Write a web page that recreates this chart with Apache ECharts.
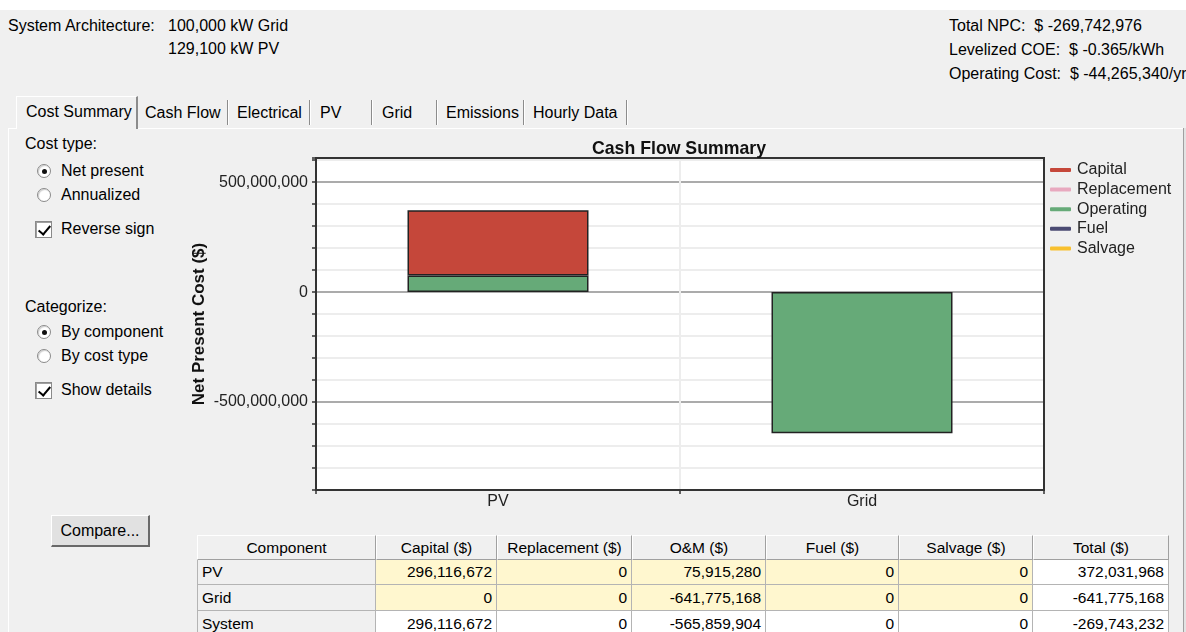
<!DOCTYPE html>
<html><head><meta charset="utf-8">
<script src="https://cdn.jsdelivr.net/npm/echarts@6/dist/echarts.min.js"></script>
<style>
*{box-sizing:border-box}
body{margin:0;width:1186px;height:632px;overflow:hidden;background:#f0f0f0;font-family:"Liberation Sans",Arial,sans-serif;font-size:16px;color:#000;position:relative}
.a{position:absolute;white-space:pre;line-height:18px}
.radio{position:absolute;width:14px;height:14px;border-radius:50%;border:1px solid #8a8a8a;background:#fff;box-shadow:inset 1px 1px 1px #cfcfcf}
.radio.on::after{content:"";position:absolute;left:3.5px;top:3.5px;width:5px;height:5px;border-radius:50%;background:#111}
.chk{position:absolute;width:17px;height:17px;border:1px solid #8a8a8a;background:#fff;box-shadow:inset 1px 1px 0 #a0a0a0}
.chk::after{content:"";position:absolute;left:4.5px;top:1px;width:5px;height:10px;border-right:2.5px solid #000;border-bottom:2.5px solid #000;transform:rotate(40deg)}
.sep{position:absolute;top:100px;height:25px;width:2px;border-left:1px solid #8c8c8c;border-right:1px solid #fff}
.cell{position:absolute;line-height:16px;white-space:pre;font-size:15.5px;padding:0 4px;display:flex;align-items:center;overflow:hidden}
#chart{position:absolute;left:172px;top:130px;width:1014px;height:390px}
</style></head><body>
<div style="position:absolute;left:0;top:0;width:1186px;height:10px;background:#fff"></div>
<div class="a" style="left:8px;top:17px">System Architecture:</div>
<div class="a" style="left:168px;top:17px">100,000 kW Grid</div>
<div class="a" style="left:168px;top:40px">129,100 kW PV</div>
<div class="a" style="left:949px;top:17px">Total NPC:  $ -269,742,976</div>
<div class="a" style="left:949px;top:41px">Levelized COE:  $ -0.365/kWh</div>
<div class="a" style="left:949px;top:65px">Operating Cost:  $ -44,265,340/yr</div>

<!-- tab panel frame -->
<div style="position:absolute;left:8px;top:128px;width:1176px;height:1px;background:#fff"></div>
<div style="position:absolute;left:8px;top:128px;width:1px;height:504px;background:#fff"></div>
<div style="position:absolute;left:1183px;top:128px;width:1px;height:504px;background:#a0a0a0"></div>
<div style="position:absolute;left:1184px;top:128px;width:2px;height:504px;background:#e3e3e3"></div>
<!-- tabs -->
<div style="position:absolute;left:16px;top:96px;width:122px;height:33px;background:#f0f0f0;border-left:1px solid #fff;border-top:1px solid #fff;border-right:2px solid #8c8c8c"></div>
<div class="a" style="left:26px;top:103px">Cost Summary</div>
<div class="a" style="left:145px;top:104px">Cash Flow</div>
<div class="sep" style="left:227px"></div>
<div class="a" style="left:237px;top:104px">Electrical</div>
<div class="sep" style="left:309px"></div>
<div class="a" style="left:320px;top:104px">PV</div>
<div class="sep" style="left:371px"></div>
<div class="a" style="left:382px;top:104px">Grid</div>
<div class="sep" style="left:436px"></div>
<div class="a" style="left:446px;top:104px">Emissions</div>
<div class="sep" style="left:523px"></div>
<div class="a" style="left:533px;top:104px">Hourly Data</div>
<div class="sep" style="left:626px"></div>

<!-- left controls -->
<div class="a" style="left:25px;top:135px">Cost type:</div>
<div class="radio on" style="left:37px;top:164px"></div>
<div class="a" style="left:61px;top:162px">Net present</div>
<div class="radio" style="left:37px;top:188px"></div>
<div class="a" style="left:61px;top:186px">Annualized</div>
<div class="chk" style="left:35px;top:221px"></div>
<div class="a" style="left:61px;top:220px">Reverse sign</div>
<div class="a" style="left:25px;top:298px">Categorize:</div>
<div class="radio on" style="left:37px;top:325px"></div>
<div class="a" style="left:61px;top:323px">By component</div>
<div class="radio" style="left:37px;top:349px"></div>
<div class="a" style="left:61px;top:347px">By cost type</div>
<div class="chk" style="left:35px;top:382px"></div>
<div class="a" style="left:61px;top:381px">Show details</div>
<div style="position:absolute;left:51px;top:515px;width:99px;height:32px;background:#e1e1e1;border:1px solid #fff;border-right:2px solid #696969;border-bottom:2px solid #696969;display:flex;align-items:center;justify-content:center">Compare...</div>

<div id="chart"></div>
<div id="table"></div>

<script>
// ---- chart data ----
const categories = ['PV', 'Grid'];
const legendOrder = ['Capital', 'Replacement', 'Operating', 'Fuel', 'Salvage'];
const capital = [296116672, 0];
const replacement = [0, 0];
const operating = [75915280, -641775168];
const fuel = [0, 0];
const salvage = [0, 0];
const labeledTicks = [-500000000, 0, 500000000];

// ---- table data ----
const tableHeader = ['Component', 'Capital ($)', 'Replacement ($)', 'O&M ($)', 'Fuel ($)', 'Salvage ($)', 'Total ($)'];
const tableRows = ['PV', 'Grid', 'System'];
const tableCapital = [296116672, 0, 296116672];
const tableReplacement = [0, 0, 0];
const tableOM = [75915280, -641775168, -565859904];
const tableFuel = [0, 0, 0];
const tableSalvage = [0, 0, 0];
const tableTotal = [372031968, -641775168, -269743232];

const fmt = v => v.toLocaleString('en-US');
const FONT = '"Liberation Sans", Arial, sans-serif';

// ---- build table ----
(function () {
  const colX = [197, 376, 497, 632, 766, 899, 1033, 1169];
  const rowY = [535, 560, 585, 611, 637];
  const cols = [tableRows, tableCapital, tableReplacement, tableOM, tableFuel, tableSalvage, tableTotal];
  const host = document.getElementById('table');
  function cell(c, r, text, style) {
    const d = document.createElement('div');
    d.className = 'cell';
    d.textContent = text;
    d.style.left = colX[c] + 'px';
    d.style.top = rowY[r] + 'px';
    d.style.width = (colX[c + 1] - colX[c]) + 'px';
    d.style.height = (rowY[r + 1] - rowY[r]) + 'px';
    Object.assign(d.style, style);
    host.appendChild(d);
  }
  tableHeader.forEach((h, c) => cell(c, 0, h, {
    justifyContent: 'center', background: '#f0f0f0',
    borderLeft: '1px solid #fff', borderTop: '1px solid #fff',
    borderRight: '1px solid #a0a0a0', borderBottom: '1px solid #a0a0a0'
  }));
  tableRows.forEach((name, r) => {
    cols.forEach((col, c) => {
      const isName = c === 0;
      let bg = '#ffffff';
      if (isName) bg = '#f0f0f0';
      else if (r < 2 && c < 6) bg = '#fff7cf';
      cell(c, r + 1, isName ? name : fmt(col[r]), {
        justifyContent: isName ? 'flex-start' : 'flex-end',
        background: bg,
        borderRight: '1px solid #b4b4b4', borderBottom: '1px solid #b4b4b4',
        borderLeft: c === 0 ? '1px solid #b4b4b4' : 'none'
      });
    });
  });
})();

// ---- chart ----
const colors = {
  Capital: '#c5473a', Replacement: '#e8a9bf', Operating: '#66aa78', Fuel: '#4a4a72', Salvage: '#f8c02e'
};
const seriesData = { Operating: operating, Capital: capital, Replacement: replacement, Fuel: fuel, Salvage: salvage };
const stackOrder = ['Operating', 'Capital', 'Replacement', 'Fuel', 'Salvage'];
const Y_MIN = -900000000, Y_MAX = 610000000, Y_STEP = 100000000;

const chart = echarts.init(document.getElementById('chart'), null, { renderer: 'canvas' });
chart.setOption({
  animation: false,
  backgroundColor: 'transparent',
  title: {
    text: 'Cash Flow Summary', left: 'center', top: 10, padding: 0,
    textStyle: { fontFamily: FONT, fontWeight: 'bold', fontSize: 17.7, color: '#111' }
  },
  legend: {
    data: legendOrder, orient: 'vertical', left: 878, top: 32, padding: 0,
    icon: 'roundRect', itemWidth: 21, itemHeight: 4, itemGap: 3.6,
    selectedMode: false,
    itemStyle: { borderWidth: 0 },
    textStyle: { fontFamily: FONT, fontSize: 16, color: '#222', lineHeight: 16, padding: [0, 0, 0, 1] }
  },
  grid: {
    left: 144, right: 142, top: 28, bottom: 30,
    show: true, borderColor: '#333', borderWidth: 2, backgroundColor: '#fff', containLabel: false
  },
  xAxis: [{
    type: 'category', data: categories,
    axisLine: { onZero: false, lineStyle: { color: '#333', width: 2 } },
    axisTick: { show: true, alignWithLabel: false, length: 4, lineStyle: { color: '#333', width: 1.5 } },
    splitLine: { show: true, lineStyle: { color: '#ededed', width: 2 } },
    axisLabel: { fontFamily: FONT, fontSize: 16, color: '#222', margin: 4 }
  }, {
    type: 'category', data: categories, position: 'top',
    axisLine: { show: true, onZero: false, lineStyle: { color: '#333', width: 2 } },
    axisTick: { show: false }, axisLabel: { show: false }, splitLine: { show: false }
  }],
  yAxis: [{
    type: 'value', min: Y_MIN, max: Y_MAX, interval: Y_STEP,
    name: 'Net Present Cost ($)', nameLocation: 'middle', nameGap: 108, nameMoveOverlap: false,
    nameTextStyle: { fontFamily: FONT, fontWeight: 'bold', fontSize: 17, color: '#111' },
    axisLine: { show: true, onZero: false, lineStyle: { color: '#333', width: 2 } },
    axisTick: { show: true, length: 4, lineStyle: { color: '#333', width: 1.5 } },
    splitLine: { show: true, lineStyle: { color: ['#ededed', '#ededed', '#ededed', '#ededed', '#ababab'], width: 2 } },
    axisLabel: {
      fontFamily: FONT, fontSize: 16, color: '#222', margin: 8,
      formatter: v => labeledTicks.includes(v) ? fmt(v) : ''
    }
  }, {
    type: 'value', min: Y_MIN, max: Y_MAX, interval: Y_STEP, position: 'right',
    axisLine: { show: true, onZero: false, lineStyle: { color: '#333', width: 2 } },
    axisTick: { show: false }, axisLabel: { show: false }, splitLine: { show: false }
  }],
  series: stackOrder.map(name => ({
    name, type: 'bar', stack: 'total',
    // zero-cost components have no visible bar
    data: seriesData[name].map(v => (v === 0 ? null : v)),
    xAxisIndex: 0, yAxisIndex: 0,
    barWidth: 181, color: colors[name],
    itemStyle: { color: colors[name], borderColor: '#222', borderWidth: 1.5 },
    emphasis: { disabled: true }
  }))
});
</script>
</body></html>
